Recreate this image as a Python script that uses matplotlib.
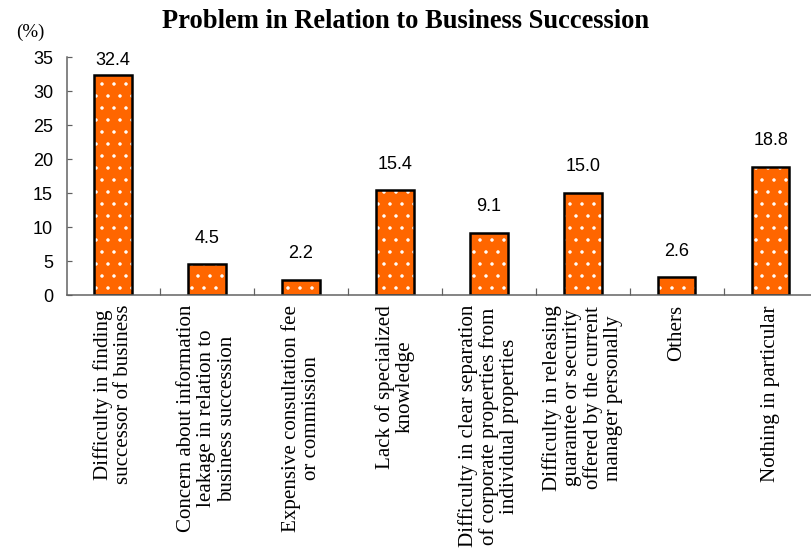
import matplotlib
matplotlib.use('Agg')
import matplotlib.pyplot as plt
import numpy as np

categories = [
    'Difficulty in finding\nsuccessor of business',
    'Concern about information\nleakage in relation to\nbusiness succession',
    'Expensive consultation fee\nor commission',
    'Lack of specialized\nknowledge',
    'Difficulty in clear separation\nof corporate properties from\nindividual properties',
    'Difficulty in releasing\nguarantee or security\noffered by the current\nmanager personally',
    'Others',
    'Nothing in particular',
]
values = [32.4, 4.5, 2.2, 15.4, 9.1, 15.0, 2.6, 18.8]
yticks = [0, 5, 10, 15, 20, 25, 30, 35]

orange = '#FF6600'
serif = ['Liberation Serif', 'DejaVu Serif']
sans = ['Liberation Sans', 'DejaVu Sans']

# 72 dpi so that points map to pixels
fig = plt.figure(figsize=(811 / 72, 548 / 72), dpi=72)
ax = fig.add_axes([67 / 811, (548 - 295) / 548, 744 / 811, 238 / 548])

x = np.arange(len(values))
# orange fill with white dots, then a black outline on top
ax.bar(x, values, width=0.4, color=orange, edgecolor='white', hatch='.', linewidth=0)
ax.bar(x, values, width=0.4, fill=False, edgecolor='black', linewidth=2.5)

for xi, v in zip(x, values):
    ax.text(xi, min(v + 2.6, 33.3), f'{v:.1f}', ha='center', va='bottom',
            fontsize=18, family=sans)

ax.set_xlim(-0.49, 7.43)
ax.set_ylim(0, 35)

ax.set_yticks(yticks)
ax.set_yticklabels([str(t) for t in yticks], fontsize=18, family=sans)
ax.tick_params(axis='y', direction='in', length=5, width=1.2, color='#606060', pad=14)

# boundary ticks between categories, labels at the centres
ax.set_xticks(x[:-1] + 0.5)
ax.set_xticklabels([])
ax.tick_params(axis='x', which='major', direction='in', length=7, width=1.2, color='#606060')
ax.set_xticks(x, minor=True)
ax.set_xticklabels(categories, minor=True, rotation=90, fontsize=21, family=serif,
                   ha='center', va='top', multialignment='center', linespacing=1.08)
ax.tick_params(axis='x', which='minor', length=0, pad=10)

for side in ['top', 'right']:
    ax.spines[side].set_visible(False)
for side in ['left', 'bottom']:
    ax.spines[side].set_color('#606060')
    ax.spines[side].set_linewidth(1.5)

fig.text(0.5, 1 - 22 / 548, 'Problem in Relation to Business Succession', ha='center', va='center',
         fontsize=26.5, fontweight='bold', family=serif)
fig.text(30 / 811, 1 - 32 / 548, '(%)', ha='center', va='center', fontsize=19, family=serif)

fig.savefig('out.png', dpi=72)
